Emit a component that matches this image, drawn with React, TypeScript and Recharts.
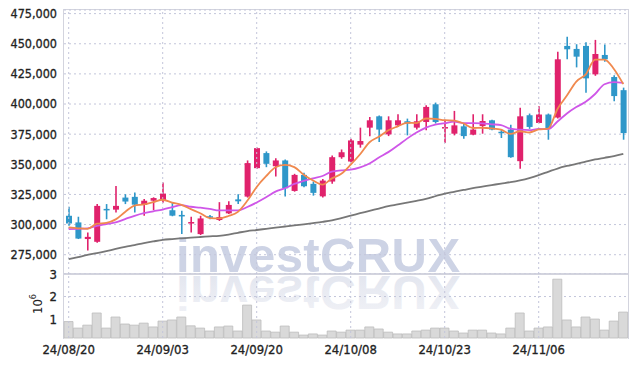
import {
  ComposedChart,
  BarChart,
  Bar,
  Line,
  XAxis,
  YAxis,
  CartesianGrid,
  ReferenceLine,
} from "recharts";

const dates = [
  "24/08/20", "24/08/21", "24/08/22", "24/08/23", "24/08/26", "24/08/27", "24/08/28", "24/08/29", "24/08/30", "24/09/02",
  "24/09/03", "24/09/04", "24/09/05", "24/09/06", "24/09/09", "24/09/10", "24/09/11", "24/09/12", "24/09/13", "24/09/19",
  "24/09/20", "24/09/23", "24/09/24", "24/09/25", "24/09/26", "24/09/27", "24/09/30", "24/10/02", "24/10/04", "24/10/07",
  "24/10/08", "24/10/10", "24/10/11", "24/10/14", "24/10/15", "24/10/16", "24/10/17", "24/10/18", "24/10/21", "24/10/22",
  "24/10/23", "24/10/24", "24/10/25", "24/10/28", "24/10/29", "24/10/30", "24/10/31", "24/11/01", "24/11/04", "24/11/05",
  "24/11/06", "24/11/07", "24/11/08", "24/11/11", "24/11/12", "24/11/13", "24/11/14", "24/11/15", "24/11/18", "24/11/19",
];

const opens = [
  307300, 301800, 288000, 285700, 313000, 312400, 322400, 323000, 316300, 319800,
  320400, 311900, 308000, 300900, 292100, 306900, 303800, 309300, 320900, 323200,
  346800, 359300, 348400, 353200, 327900, 341200, 333800, 323400, 335700, 355900,
  352300, 366300, 380400, 389800, 374800, 382300, 385700, 380400, 385100, 399800,
  379800, 375400, 381500, 374600, 381800, 386500, 377000, 378800, 352600, 390700,
  384300, 391300, 388800, 448200, 445700, 448200, 424600, 440700, 422400, 411500,
];
const highs = [
  314800, 306500, 293400, 317000, 317000, 332100, 325200, 326700, 321200, 322600,
  334900, 318200, 311500, 306500, 307300, 308000, 318600, 319300, 325200, 353200,
  364000, 360700, 355100, 354000, 342100, 342900, 335700, 337900, 357300, 362300,
  371200, 380400, 389300, 390500, 389800, 391500, 387900, 391500, 399000, 401200,
  387000, 394300, 383800, 391500, 391500, 387000, 378800, 382900, 397000, 392100,
  398200, 392100, 443400, 455900, 449600, 451300, 453200, 449300, 423900, 413600,
];
const lows = [
  299000, 288000, 278500, 284900, 304400, 310000, 317000, 310000, 307300, 311900,
  318200, 306900, 292100, 293400, 291300, 304400, 303000, 308800, 317000, 322400,
  346300, 347600, 339800, 323200, 327300, 330900, 324000, 322400, 333800, 354600,
  351700, 363800, 373200, 368400, 373400, 380900, 374000, 378800, 378200, 383800,
  367600, 374000, 371200, 374000, 375400, 378200, 371800, 355500, 346300, 379400,
  384000, 370400, 388000, 437100, 430400, 409300, 423400, 435100, 402400, 370400,
];
const closes = [
  300900, 288400, 289800, 315500, 312500, 315500, 319100, 316500, 319800, 322000,
  325700, 307400, 306900, 302100, 305100, 305700, 306300, 316300, 319300, 351000,
  363400, 350400, 353200, 330100, 341200, 331800, 326300, 336500, 355900, 360000,
  369800, 369300, 386500, 378800, 386500, 386500, 383800, 385700, 397600, 385100,
  380900, 382300, 373400, 378800, 385900, 378800, 376500, 355900, 389800, 381000,
  391300, 380100, 437100, 445400, 439300, 421300, 441500, 437100, 406600, 375900,
];

const ma5 = [
  297600, 296900, 296500, 300700, 301400, 304300, 310500, 315800, 316700, 318600,
  320600, 318300, 316400, 312800, 309400, 305400, 305200, 307100, 310500, 319700,
  331200, 340100, 347500, 349600, 347700, 341300, 336500, 333200, 338300, 342100,
  349700, 358300, 368300, 372900, 378200, 381500, 384400, 384200, 388000, 387700,
  386600, 386300, 383900, 380100, 380300, 379800, 378700, 375200, 377400, 376400,
  378900, 379600, 395900, 407000, 418600, 424600, 436900, 436900, 429100, 416500,
];
const ma10 = [
  296300, 296500, 296900, 299000, 300400, 301800, 304600, 307300, 309500, 311000,
  312500, 314400, 316100, 314800, 314000, 313000, 311700, 311700, 311700, 314600,
  318300, 322600, 327300, 330100, 333700, 336300, 338300, 340300, 344000, 344900,
  345500, 347400, 350700, 355600, 360100, 365600, 371300, 376300, 380400, 382900,
  384100, 385400, 384100, 384100, 384000, 383200, 382500, 379500, 378700, 378300,
  379400, 379100, 385500, 392200, 397500, 401800, 408300, 416400, 418100, 417500,
];
const ma60 = [
  271250, 273000, 274800, 276300, 278000, 279800, 281500, 283000, 284600, 286000,
  287300, 288000, 288600, 289200, 289700, 290200, 290700, 291750, 293200, 294600,
  295500, 296500, 297500, 298400, 299300, 300250, 301250, 302300, 303500, 305400,
  307500, 309400, 311400, 313300, 315300, 316700, 318200, 319750, 321400, 323500,
  325700, 327200, 328700, 330250, 331500, 332750, 334000, 335200, 336700, 338600,
  341000, 343750, 346500, 348600, 350300, 352200, 354000, 355400, 356800, 358600,
];
const volumes = [
  890000, 600000, 730000, 1270000, 600000, 1090000, 780000, 730000, 820000, 650000,
  910000, 960000, 1090000, 700000, 600000, 470000, 650000, 690000, 470000, 1620000,
  960000, 470000, 420000, 690000, 420000, 290000, 340000, 290000, 470000, 420000,
  510000, 510000, 650000, 560000, 420000, 340000, 340000, 470000, 510000, 600000,
  600000, 470000, 380000, 510000, 510000, 380000, 340000, 600000, 1270000, 470000,
  600000, 650000, 2770000, 960000, 650000, 1090000, 1000000, 510000, 910000, 1310000,
];

const tickDates = ["24/08/20", "24/09/03", "24/09/20", "24/10/08", "24/10/23", "24/11/06"];
const priceTicks = [275000, 300000, 325000, 350000, 375000, 400000, 425000, 450000, 475000];
const volumeTicks = [1000000, 2000000, 3000000];

const UP = "#e0226c";
const DOWN = "#2f97c9";
const GRID = "#c3c6da";
const FONT = "'DejaVu Sans Condensed', 'DejaVu Sans', sans-serif";
const tickStyle = { fill: "#222", stroke: "#222", strokeWidth: 0.3, fontFamily: FONT };

const data = dates.map((date, i) => ({
  date,
  open: opens[i],
  high: highs[i],
  low: lows[i],
  close: closes[i],
  range: [lows[i], highs[i]],
  ma5: ma5[i],
  ma10: ma10[i],
  ma60: ma60[i],
  volume: volumes[i],
}));

const Candle = (props: any) => {
  const { x, y, width, height, payload } = props;
  const top = Math.min(y, y + height);
  const h = Math.abs(height);
  const { open, close, high, low } = payload;
  const ratio = h / (high - low || 1);
  const bodyTop = top + (high - Math.max(open, close)) * ratio;
  const bodyH = Math.max(1.5, Math.abs(open - close) * ratio);
  const color = close >= open ? UP : DOWN;
  const cx = x + width / 2;
  return (
    <g>
      <line x1={cx} x2={cx} y1={top} y2={top + h} stroke={color} strokeWidth={1.6} />
      <rect x={x} y={bodyTop} width={width} height={bodyH} fill={color} />
    </g>
  );
};

// logo behind the plot, with its mirror image under the price panel
const Watermark = () => (
  <svg width={637} height={367} style={{ position: "absolute", left: 0, top: 0 }}>
    <defs>
      <linearGradient id="fade" x1="0" y1="232" x2="0" y2="272" gradientUnits="userSpaceOnUse">
        <stop offset="0%" stopColor="#e6e8f0" stopOpacity={0.6} />
        <stop offset="100%" stopColor="#e3e6ef" stopOpacity={1} />
      </linearGradient>
    </defs>
    <text x={176} y={271.5} fontFamily="'Liberation Sans', Arial, sans-serif" fontWeight={700} fontSize={49} letterSpacing={0.4} fill="#cdd3e5">
      investCRUX
    </text>
    <g transform="translate(0, 547) scale(1, -1)">
      <text x={176} y={271.5} fontFamily="'Liberation Sans', Arial, sans-serif" fontWeight={700} fontSize={49} letterSpacing={0.4} fill="url(#fade)">
        investCRUX
      </text>
    </g>
  </svg>
);

const App = () => {
  return (
    <div style={{ position: "absolute", left: 0, top: 0, width: 637, height: 367, background: "#fff" }}>
      <Watermark />
      <div style={{ position: "absolute", left: 63, top: 9, width: 566, height: 266, border: "1px solid #d3d4de", boxSizing: "border-box" }} />
      <div style={{ position: "absolute", left: 63, top: 273, width: 566, height: 66, border: "1px solid #d3d4de", borderBottom: "none", boxSizing: "border-box" }} />

      <div style={{ position: "absolute", left: 0, top: 0 }}>
        <ComposedChart width={637} height={274} data={data} margin={{ top: 10, right: 9, bottom: 0, left: 0 }}>
          <CartesianGrid vertical={false} stroke={GRID} strokeDasharray="2 3" />
          <XAxis dataKey="date" hide />
          <YAxis
            width={64}
            domain={[259000, 478000]}
            ticks={priceTicks}
            tickFormatter={(v: number) => v.toLocaleString("en-US")}
            axisLine={false}
            tickLine={false}
            tickSize={5}
            tickMargin={2}
            tick={{ ...tickStyle, fontSize: 12.5 }}
          />
          {tickDates.map((d) => (
            <ReferenceLine key={d} x={d} stroke={GRID} strokeDasharray="2 3" />
          ))}
          <Bar dataKey="range" barSize={6} shape={<Candle />} isAnimationActive={false} />
          <Line dataKey="ma60" type="monotone" stroke="#777" strokeWidth={1.8} dot={false} isAnimationActive={false} />
          <Line dataKey="ma10" type="monotone" stroke="#cf56e8" strokeWidth={1.8} dot={false} isAnimationActive={false} />
          <Line dataKey="ma5" type="monotone" stroke="#f0894e" strokeWidth={1.8} dot={false} isAnimationActive={false} />
        </ComposedChart>
      </div>

      <div style={{ position: "absolute", left: 0, top: 266 }}>
        <BarChart width={637} height={101} data={data} margin={{ top: 8, right: 9, bottom: 0, left: 0 }} barCategoryGap={0}>
          <CartesianGrid vertical={false} horizontalValues={[1000000, 2000000]} stroke={GRID} strokeDasharray="2 3" />
          <XAxis
            dataKey="date"
            ticks={tickDates}
            interval={0}
            height={29}
            axisLine={false}
            tickLine={false}
            tickSize={4}
            tickMargin={3}
            tick={{ ...tickStyle, fontSize: 13 }}
          />
          <YAxis
            width={64}
            domain={[160000, 3000000]}
            ticks={volumeTicks}
            tickFormatter={(v: number) => String(v / 1000000)}
            axisLine={false}
            tickLine={false}
            tickSize={5}
            tickMargin={2}
            tick={{ ...tickStyle, fontSize: 13 }}
          />
          {tickDates.map((d) => (
            <ReferenceLine key={d} x={d} stroke={GRID} strokeDasharray="2 3" />
          ))}
          <Bar dataKey="volume" fill="#d9d9d9" stroke="#bdbdbd" strokeWidth={0.8} isAnimationActive={false} />
        </BarChart>
      </div>

      <svg width={50} height={80} style={{ position: "absolute", left: 0, top: 266 }}>
        <text transform="translate(42, 38) rotate(-90)" textAnchor="middle" fontFamily={FONT} fontSize={13} fill="#222">
          10<tspan dy={-6} fontSize={9}>6</tspan>
        </text>
      </svg>
    </div>
  );
};

export default App;
